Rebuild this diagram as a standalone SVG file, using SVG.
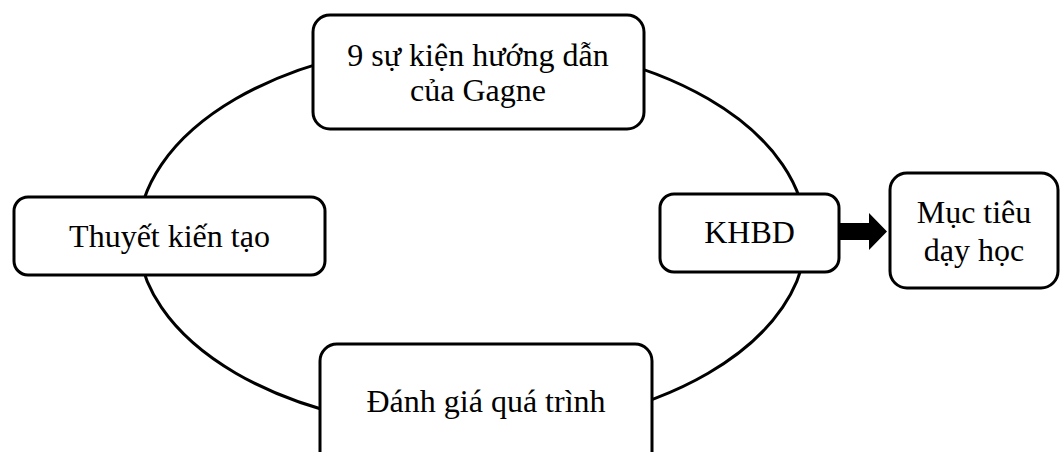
<svg xmlns="http://www.w3.org/2000/svg" width="1060" height="452" viewBox="0 0 1060 452">
<style>
.box{fill:#fff;stroke:#000;stroke-width:3}
.lbl{font-family:"Liberation Serif","Times New Roman",serif;font-size:32px;fill:#000;text-anchor:middle}
.conn{fill:none;stroke:#000;stroke-width:3}
</style>
<rect width="1060" height="452" fill="#fff"/>
<g id="connectors">
<ellipse class="conn" cx="472" cy="236" rx="334" ry="194"/>
<polygon points="828,223 869,223 869,213 887,231.5 869,250 869,240 828,240" fill="#000"/>
</g>
<g id="node-gagne">
<rect class="box" x="313" y="15" width="331" height="114" rx="17"/>
<text class="lbl" x="478" y="66">9 sự kiện hướng dẫn</text>
<text class="lbl" x="478" y="101">của Gagne</text>
</g>
<g id="node-kientao">
<rect class="box" x="14" y="197" width="311" height="78" rx="14"/>
<text class="lbl" x="169.5" y="247">Thuyết kiến tạo</text>
</g>
<g id="node-danhgia">
<rect class="box" x="320" y="344" width="332" height="130" rx="17"/>
<text class="lbl" x="486" y="412">Đánh giá quá trình</text>
</g>
<g id="node-khbd">
<rect class="box" x="660" y="194" width="179" height="78" rx="14"/>
<text class="lbl" x="749.5" y="243">KHBD</text>
</g>
<g id="node-muctieu">
<rect class="box" x="890" y="173" width="168" height="115" rx="17"/>
<text class="lbl" x="974" y="223">Mục tiêu</text>
<text class="lbl" x="974" y="261">dạy học</text>
</g>
</svg>
